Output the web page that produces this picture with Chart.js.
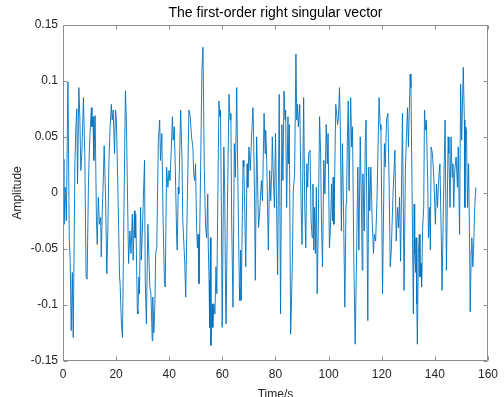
<!DOCTYPE html>
<html>
<head>
<meta charset="utf-8">
<title>Right singular vector</title>
<script src="https://cdn.jsdelivr.net/npm/chart.js@4.4.0/dist/chart.umd.min.js"></script>
<style>
  html, body { margin: 0; padding: 0; background: #fff; }
  #wrap { width: 504px; height: 397px; }
</style>
</head>
<body>
<div id="wrap"><canvas id="vectorChart" width="504" height="397"></canvas></div>
<script>
// Sample times (s) and amplitudes of the first-order right singular vector
const timeS = [
  0, 0.35, 0.85, 1.25, 1.86, 2.36, 2.7, 3.1, 3.5, 3.85, 4.48, 4.85, 5.2, 5.47, 5.97, 6.34, 6.71, 7.1, 7.7, 8.2,
  8.7, 9.08, 9.57, 9.95, 10.3, 10.7, 10.9, 11.3, 11.6, 12.1, 12.6, 12.9, 13.3, 13.7, 14.2, 14.4, 14.8, 15.2, 15.5, 16.0,
  16.5, 16.9, 17.3, 17.7, 18.2, 18.5, 18.9, 19.4, 19.77, 20.1, 20.5, 20.9, 21.3, 21.5, 22.0, 22.4, 22.9, 23.5, 23.9, 24.2,
  24.7, 25.2, 25.6, 26.1, 26.4, 26.9, 27.1, 27.4, 28.0, 28.2, 28.6, 28.8, 29.2, 29.5, 29.8, 30.7, 30.96, 31.4, 31.95, 32.3,
  32.7, 33.1, 33.6, 33.8, 34.2, 34.6, 34.9, 35.3, 35.9, 36.4, 36.7, 37.2, 37.7, 38.2, 38.5, 39.0, 39.5, 39.9, 40.3, 40.8,
  41.2, 41.5, 41.9, 42.3, 42.8, 43.0, 43.4, 43.6, 44.3, 44.8, 45.1, 45.8, 46.2, 46.9, 47.4, 47.9, 48.4, 48.9, 49.2, 49.6,
  49.9, 50.3, 50.6, 50.85, 51.2, 51.8, 52.3, 52.7, 53.2, 53.7, 54.1, 54.5, 54.7, 55.0, 55.2, 55.5, 55.7, 56.1, 56.4, 56.8,
  57.2, 57.6, 57.9, 58.7, 59.05, 59.3, 59.6, 59.93, 60.55, 60.9, 61.2, 61.4, 62.0, 62.5, 62.9, 63.2, 63.5, 64.0, 64.5, 64.9,
  65.4, 65.9, 66.4, 66.6, 66.9, 67.1, 67.5, 67.8, 68.1, 68.4, 68.8, 69.3, 69.6, 70.0, 70.5, 71.0, 71.5, 71.7, 72.1, 72.4,
  72.9, 73.2, 73.6, 74.0, 74.4, 74.7, 75.1, 75.7, 76.1, 76.3, 76.7, 77.3, 77.8, 78.2, 78.6, 78.8, 79.2, 79.6, 80.0, 80.4,
  80.8, 81.4, 81.9, 82.4, 82.8, 83.2, 83.6, 83.8, 84.2, 84.7, 84.9, 85.2, 85.7, 86.0, 86.4, 86.7, 87.2, 87.7, 88.0, 88.3,
  88.6, 89.15, 89.65, 90.0, 90.6, 91.0, 91.4, 91.8, 92.1, 92.5, 93.0, 93.4, 93.8, 94.1, 94.4, 94.7, 95.0, 95.4, 95.7, 96.1,
  96.6, 97.0, 97.3, 97.7, 98.2, 98.6, 99.1, 99.5, 99.8, 100.3, 100.7, 101.1, 101.45, 101.7, 102.0, 102.7, 103.1, 103.4, 103.7, 104.1,
  104.4, 104.8, 105.2, 105.6, 106.1, 106.55, 106.8, 107.05, 107.4, 107.7, 108.3, 108.7, 109.0, 109.5, 110.0, 110.5, 111.0, 111.4, 111.9, 112.3,
  112.65, 112.9, 113.4, 113.8, 114.1, 114.75, 115.1, 115.5, 115.9, 116.4, 116.9, 117.2, 117.7, 118.2, 119.0, 119.4, 119.7, 120.3, 121.0, 121.3,
  121.8, 122.3, 122.8, 123.2, 123.6, 124.2, 124.95, 125.45, 125.95, 126.3, 126.7, 127.1, 127.8, 128.4, 128.9, 129.3, 129.7, 130.05, 130.7, 131.0,
  131.4, 131.9, 132.2, 132.4, 132.7, 132.9, 133.2, 133.4, 133.8, 134.15, 134.4, 134.8, 135.0, 135.4, 135.8, 136.1, 136.5, 136.8, 137.3, 137.6,
  138.0, 138.3, 138.6, 139.1, 139.6, 140.0, 140.2, 140.6, 141.0, 141.4, 141.9, 142.4, 142.7, 143.2, 143.85, 144.35, 145.0, 145.3, 145.7, 146.1,
  146.5, 146.8, 147.1, 147.5, 148.0, 148.5, 148.8, 149.3, 149.7, 150.1, 150.7, 151.1, 151.3, 151.6, 151.9, 152.3, 152.7, 153.1, 153.3, 153.7,
  153.9, 154.3, 154.7, 155.0, 155.4
];
const amplitude = [
  0.03, -0.028, 0.005, -0.025, 0.099, -0.041, -0.06, -0.123, -0.071, -0.129, 0.026, 0.059, 0.075, 0.008, 0.094, 0.068, 0.02, 0.035, 0.085, 0.035,
  -0.075, -0.077, 0.005, 0.041, 0.059, 0.076, 0.059, 0.068, 0.029, 0.069, -0.025, -0.046, -0.004, -0.028, -0.022, -0.057, -0.016, 0.014, 0.042, -0.001,
  -0.072, -0.031, 0.029, 0.057, 0.079, 0.065, 0.074, 0.035, 0.074, 0.065, 0.023, -0.025, -0.075, -0.081, -0.117, -0.129, -0.025, 0.091, 0.062, 0.011,
  -0.063, -0.034, -0.054, -0.019, -0.06, -0.016, -0.04, -0.019, -0.105, -0.108, -0.075, -0.09, -0.013, -0.06, -0.04, 0.029, -0.078, -0.117, -0.028, -0.054,
  -0.084, -0.09, -0.132, -0.093, -0.125, -0.099, -0.054, -0.049, 0.047, 0.065, 0.029, 0.053, -0.025, -0.081, -0.084, 0.023, 0.005, 0.02, 0.011, 0.041,
  0.068, 0.047, 0.059, 0.02, -0.04, -0.051, 0.005, -0.001, 0.074, 0.029, -0.025, -0.06, -0.093, 0.005, 0.074, 0.068, 0.05, 0.041, 0.017, 0.011,
  0.026, -0.031, -0.049, -0.037, -0.081, 0.02, 0.109, 0.13, 0.02, -0.031, -0.04, -0.001, -0.049, -0.078, -0.12, -0.04, -0.136, -0.099, -0.12, -0.099,
  -0.108, -0.066, -0.09, 0.082, 0.068, 0.074, -0.007, -0.12, 0.041, -0.001, -0.093, -0.117, 0.005, 0.088, 0.065, 0.071, -0.025, -0.102, 0.044, 0.014,
  0.094, -0.001, -0.084, -0.096, -0.051, -0.096, -0.025, 0.029, 0.023, -0.013, -0.066, 0.026, 0.005, 0.041, 0.02, 0.05, 0.076, 0.059, -0.001, -0.078,
  0.05, 0.017, -0.031, -0.019, -0.001, 0.011, -0.007, 0.071, 0.035, 0.056, 0.029, -0.051, 0.02, -0.007, 0.02, 0.05, 0.014, -0.013, 0.053, -0.01,
  -0.073, 0.088, -0.108, 0.061, 0.011, 0.091, 0.065, 0.074, -0.013, 0.068, 0.026, 0.061, -0.126, -0.102, -0.054, 0.002, 0.017, 0.124, 0.065, 0.079,
  0.059, 0.079, -0.013, -0.046, 0.085, -0.01, -0.049, 0.026, 0.005, 0.035, 0.038, -0.025, -0.04, 0.008, -0.051, -0.013, -0.054, 0.005, -0.09, -0.031,
  0.068, 0.035, -0.025, -0.066, 0.029, -0.001, 0.061, 0.026, 0.053, -0.049, -0.031, 0.008, -0.025, 0.014, -0.028, 0.079, 0.068, 0.061, 0.068, 0.094,
  0.061, -0.034, 0.044, -0.013, -0.102, -0.01, 0.002, 0.047, 0.082, 0.002, 0.085, 0.041, 0.059, -0.063, -0.135, -0.06, 0.023, -0.051, 0.05, -0.001,
  -0.069, 0.017, -0.034, 0.044, 0.065, -0.114, 0.023, -0.016, 0.023, -0.025, -0.054, -0.037, -0.043, -0.007, 0.085, 0.061, 0.056, -0.09, 0.044, 0.023,
  0.065, 0.071, 0.005, -0.066, -0.051, -0.004, 0.038, -0.043, -0.013, -0.031, -0.004, -0.061, 0.071, -0.087, 0.02, 0.05, 0.076, 0.041, 0.106, 0.094,
  0.005, -0.108, -0.01, -0.054, -0.071, -0.04, -0.099, -0.135, -0.054, -0.037, -0.075, -0.063, -0.084, -0.031, -0.013, 0.074, 0.056, 0.065, 0.011, -0.04,
  -0.013, -0.051, 0.041, 0.035, 0.014, -0.013, -0.028, 0.008, -0.013, 0.011, 0.026, -0.037, -0.087, -0.013, 0.065, -0.069, 0.05, 0.035, -0.013, 0.05,
  0.014, 0.026, -0.013, 0.02, 0.032, 0.005, 0.041, -0.037, 0.097, 0.047, 0.112, 0.065, -0.013, 0.059, 0.056, -0.013, 0.026, -0.051, -0.106, -0.051,
  -0.04, -0.066, -0.04, -0.013, 0.005
];
const xTicks = [0, 20, 40, 60, 80, 100, 120, 140, 160];
const yTicks = [-0.15, -0.1, -0.05, 0, 0.05, 0.1, 0.15];

Chart.defaults.font.family = '"Liberation Sans", Arial, Helvetica, sans-serif';
Chart.defaults.color = '#262626';

// Box around the plot with short inward ticks on all four sides
const axesBox = {
  id: 'axesBox',
  afterLayout(chart) {
    // center the title over the plot area rather than the whole canvas
    if (chart.titleBlock) {
      chart.titleBlock.left = chart.chartArea.left;
      chart.titleBlock.right = chart.chartArea.right;
    }
  },
  afterDatasetsDraw(chart) {
    const {ctx, chartArea: a, scales: {x, y}} = chart;
    const L = Math.round(a.left) + 0.5, R = Math.round(a.right) - 0.5;
    const T = Math.round(a.top) + 0.5, B = Math.round(a.bottom) - 0.5;
    const len = 4;
    ctx.save();
    ctx.strokeStyle = '#8c8c8c';
    ctx.lineWidth = 1;
    ctx.beginPath();
    ctx.rect(L, T, R - L, B - T);
    xTicks.forEach(v => {
      const px = Math.round(x.getPixelForValue(v)) + 0.5;
      ctx.moveTo(px, B); ctx.lineTo(px, B - len);
      ctx.moveTo(px, T); ctx.lineTo(px, T + len);
    });
    yTicks.forEach(v => {
      const py = Math.round(y.getPixelForValue(v)) + 0.5;
      ctx.moveTo(L, py); ctx.lineTo(L + len, py);
      ctx.moveTo(R, py); ctx.lineTo(R - len, py);
    });
    ctx.stroke();
    ctx.restore();
  }
};

const points = timeS.map((t, i) => ({x: t, y: amplitude[i]}));

new Chart(document.getElementById('vectorChart'), {
  type: 'line',
  data: {
    datasets: [{
      data: points,
      borderColor: '#0072BD',
      borderWidth: 0.9,
      pointRadius: 0,
      tension: 0,
      fill: false
    }]
  },
  options: {
    responsive: false,
    animation: false,
    layout: { padding: { left: 0, right: 12, top: 0, bottom: 0 } },
    plugins: {
      legend: { display: false },
      tooltip: { enabled: false },
      title: {
        display: true,
        text: 'The first-order right singular vector',
        color: '#000',
        font: { size: 14, weight: 'normal' },
        padding: { top: 5, bottom: 3 }
      }
    },
    scales: {
      x: {
        type: 'linear',
        min: 0,
        max: 160,
        grid: { display: false, drawTicks: false },
        border: { display: false },
        afterBuildTicks: s => { s.ticks = xTicks.map(v => ({value: v})); },
        afterFit: s => { s.height = 36; },
        ticks: { font: { size: 12 }, padding: 6, maxRotation: 0 },
        title: { display: true, text: 'Time/s', font: { size: 12 }, padding: { top: 0, bottom: -5 } }
      },
      y: {
        min: -0.15,
        max: 0.15,
        grid: { display: false, drawTicks: false },
        border: { display: false },
        afterBuildTicks: s => { s.ticks = yTicks.map(v => ({value: v})); },
        afterFit: s => { s.width = 63; },
        ticks: { font: { size: 12 }, padding: 5, callback: v => String(+v.toFixed(2)) },
        title: { display: true, text: 'Amplitude', font: { size: 12 }, padding: { top: 10, bottom: 0 } }
      }
    }
  },
  plugins: [axesBox]
});
</script>
</body>
</html>
